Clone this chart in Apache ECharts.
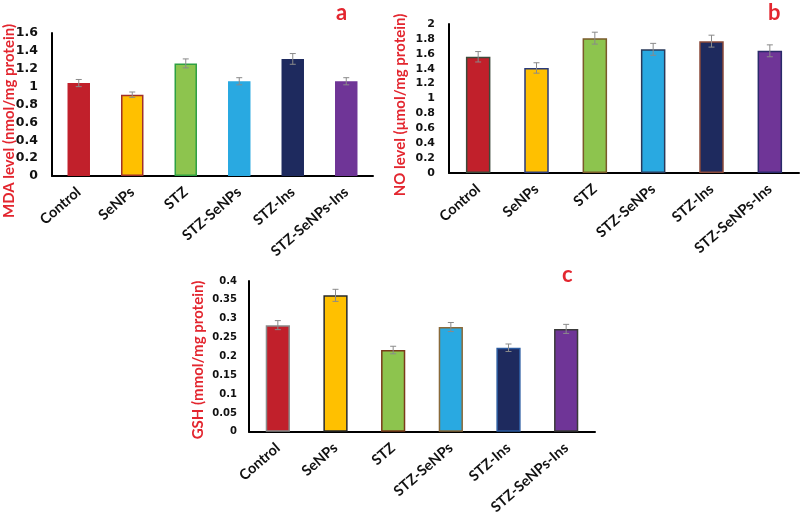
<!DOCTYPE html>
<html><head><meta charset="utf-8">
<script src="https://cdn.jsdelivr.net/npm/echarts@6/dist/echarts.min.js"></script>
<style>html,body{margin:0;padding:0;background:#fff}#c{width:800px;height:517px}</style>
</head><body><div id="c"></div>
<script>
const categories = ['Control','SeNPs','STZ','STZ-SeNPs','STZ-Ins','STZ-SeNPs-Ins'];
const mdaValues = [1.04, 0.91, 1.26, 1.06, 1.31, 1.06];
const mdaErrors = [0.04, 0.03, 0.05, 0.04, 0.06, 0.04];
const noValues = [1.56, 1.41, 1.81, 1.66, 1.77, 1.64];
const noErrors = [0.07, 0.07, 0.08, 0.08, 0.08, 0.08];
const gshValues = [0.283, 0.362, 0.217, 0.278, 0.223, 0.273];
const gshErrors = [0.012, 0.016, 0.010, 0.012, 0.010, 0.012];
const mdaTicks = {min:0, max:1.6, interval:0.2};
const noTicks = {min:0, max:2, interval:0.2};
const gshTicks = {min:0, max:0.4, interval:0.05};
const yTitles = ['MDA level (nmol/mg protein)','NO level (μmol/mg protein)','GSH (mmol/mg protein)'];
const panelLabels = ['a','b','c'];

const fills = ['#C1202B','#FFC000','#8DC44E','#29A9E1','#1E2A5E','#6F3597'];
const bordersA = ['#C1202B','#A0302A','#2EA043','#29A9E1','#1E2A5E','#6F3597'];
const bordersB = ['#3d4a3a','#2a3a7a','#7a5a2a','#2a3a5a','#8a4a3a','#2a2a6a'];
const bordersC = ['#8a8a8a','#2a2a2a','#7a3a1a','#8a6a3a','#2a5aa0','#3a3a3a'];

const FONT = 'Lato';
const TICKFONT = 'DejaVu Sans';
const red = '#E3262F';

function grid(l,r,t,b){return {left:l,right:r,top:t,bottom:b,containLabel:false};}
function xAxis(i){
  return {type:'category',gridIndex:i,data:categories,
    axisLine:{lineStyle:{color:'#000',width:2}},axisTick:{show:false},
    axisLabel:{rotate:41,interval:0,margin:14,color:'#111',fontFamily:FONT,fontWeight:'bold',fontSize:14.5}};
}
function yAxis(i,ticks,fs,margin,fmt){
  return {type:'value',gridIndex:i,min:ticks.min,max:ticks.max,interval:ticks.interval,
    axisLine:{show:true,lineStyle:{color:'#000',width:2}},axisTick:{show:false},splitLine:{show:false},
    axisLabel:{color:'#111',fontFamily:TICKFONT,fontWeight:'bold',fontSize:fs,margin:margin,formatter:fmt}};
}
function bars(i,vals,borders){
  return {type:'bar',xAxisIndex:i,yAxisIndex:i,barWidth:'42%',z:2,
    data:vals.map((v,k)=>({value:v,itemStyle:{color:fills[k],borderColor:borders[k],borderWidth:1.5}}))};
}
function errs(i,vals,e){
  return {type:'custom',xAxisIndex:i,yAxisIndex:i,z:5,
    data:vals.map((v,k)=>[k,v-e[k],v+e[k]]),
    renderItem:function(params,api){
      const lo=api.coord([api.value(0),api.value(1)]);
      const hi=api.coord([api.value(0),api.value(2)]);
      const w=3;
      const st={stroke:'#8a8a8a',lineWidth:1};
      return {type:'group',children:[
        {type:'line',shape:{x1:hi[0],y1:hi[1],x2:lo[0],y2:lo[1]},style:st},
        {type:'line',shape:{x1:hi[0]-w,y1:hi[1],x2:hi[0]+w,y2:hi[1]},style:st},
        {type:'line',shape:{x1:lo[0]-w,y1:lo[1],x2:lo[0]+w,y2:lo[1]},style:st}
      ]};
    }};
}
function yTitle(t,x,y){
  return {type:'text',x:x,y:y,rotation:Math.PI/2,
    style:{text:t,fill:red,font:'bold 15px '+FONT,align:'center',verticalAlign:'middle'}};
}
function panelLabel(t,x,y){
  return {type:'text',left:x,top:y,style:{text:t,fill:red,font:'bold 22px '+FONT}};
}
const fmt1 = v => String(+v.toFixed(2));
const chart = echarts.init(document.getElementById('c'),null,{renderer:'canvas'});
chart.setOption({
  animation:false,
  grid:[grid(52,427,33,341),grid(449,1,24,344),grid(249,205,281,85)],
  xAxis:[xAxis(0),xAxis(1),xAxis(2)],
  yAxis:[yAxis(0,mdaTicks,12.5,14,fmt1),
         yAxis(1,noTicks,11,14,fmt1),
         yAxis(2,gshTicks,10,12,fmt1)],
  series:[bars(0,mdaValues,bordersA),errs(0,mdaValues,mdaErrors),
          bars(1,noValues,bordersB),errs(1,noValues,noErrors),
          bars(2,gshValues,bordersC),errs(2,gshValues,gshErrors)],
  graphic:[
    yTitle(yTitles[0],9,121), yTitle(yTitles[1],400,105), yTitle(yTitles[2],198,360),
    panelLabel(panelLabels[0],336,2), panelLabel(panelLabels[1],768,2), panelLabel(panelLabels[2],562,264)
  ]
});
</script></body></html>
